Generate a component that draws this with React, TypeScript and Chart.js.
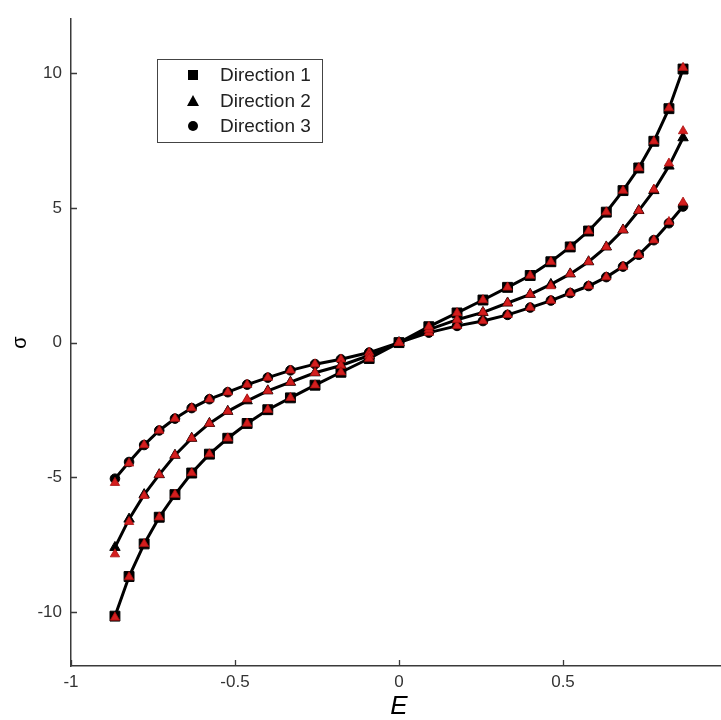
import React, { useEffect, useRef } from "react";
import { Chart, registerables } from "chart.js";

Chart.register(...registerables);

// Strain values E (x axis)
const E = [
  -0.866, -0.823, -0.777, -0.731, -0.683, -0.632, -0.578, -0.522, -0.463, -0.4,
  -0.331, -0.256, -0.177, -0.091, 0, 0.091, 0.177, 0.256, 0.331, 0.4, 0.463,
  0.522, 0.578, 0.632, 0.683, 0.731, 0.777, 0.823, 0.866,
];

// Stress sigma, black curves with markers
const dir1 = [
  -10.15, -8.68, -7.47, -6.48, -5.64, -4.84, -4.14, -3.55, -3.0, -2.49, -2.05,
  -1.58, -1.1, -0.59, 0, 0.59, 1.1, 1.58, 2.05, 2.49, 3.0, 3.55, 4.14, 4.84,
  5.64, 6.48, 7.47, 8.68, 10.15,
];
const dir2 = [
  -7.6, -6.55, -5.64, -4.9, -4.18, -3.55, -3.0, -2.55, -2.16, -1.79, -1.47,
  -1.12, -0.85, -0.48, 0, 0.48, 0.85, 1.12, 1.47, 1.79, 2.16, 2.55, 3.0, 3.55,
  4.18, 4.9, 5.64, 6.55, 7.6,
];
const dir3 = [
  -5.05, -4.43, -3.8, -3.26, -2.82, -2.43, -2.1, -1.84, -1.56, -1.3, -1.03,
  -0.8, -0.62, -0.37, 0, 0.37, 0.62, 0.8, 1.03, 1.3, 1.56, 1.84, 2.1, 2.43,
  2.82, 3.26, 3.8, 4.43, 5.05,
];

// Red triangle markers (second data set)
const red1 = [
  -10.2, -8.7, -7.47, -6.48, -5.64, -4.84, -4.14, -3.55, -3.0, -2.49, -2.05,
  -1.58, -1.1, -0.59, 0, 0.59, 1.1, 1.58, 2.05, 2.49, 3.0, 3.55, 4.14, 4.84,
  5.64, 6.48, 7.47, 8.7, 10.2,
];
const red2 = [
  -7.85, -6.65, -5.68, -4.9, -4.18, -3.55, -3.0, -2.55, -2.1, -1.79, -1.47,
  -1.12, -0.85, -0.48, 0, 0.48, 0.85, 1.12, 1.47, 1.79, 2.1, 2.55, 3.0, 3.55,
  4.18, 4.9, 5.68, 6.65, 7.85,
];
const red3 = [
  -5.2, -4.48, -3.8, -3.26, -2.82, -2.43, -2.1, -1.84, -1.56, -1.3, -1.03,
  -0.8, -0.62, -0.37, 0, 0.37, 0.62, 0.8, 1.03, 1.3, 1.56, 1.84, 2.1, 2.43,
  2.82, 3.26, 3.8, 4.48, 5.2,
];

const xTicks = [-1, -0.5, 0, 0.5, 1];
const yTicks = [-10, -5, 0, 5, 10];
const legendLabels = ["Direction 1", "Direction 2", "Direction 3"];

const FONT = "'Liberation Sans', Arial, sans-serif";
const RED = "#d41e1e";

export default function App() {
  const ref = useRef<HTMLCanvasElement>(null);

  useEffect(() => {
    document.body.style.margin = "0";
    document.body.style.overflow = "hidden";
    document.documentElement.style.overflow = "hidden";
    const mk = (ys: number[]) => E.map((x, i) => ({ x, y: ys[i] }));

    const black = (label: string, ys: number[], style: string, r: number) => ({
      label,
      data: mk(ys),
      borderColor: "#000",
      backgroundColor: "#000",
      borderWidth: 3,
      pointStyle: style,
      pointRadius: r,
      pointBorderWidth: 1,
      pointBorderColor: "#000",
      pointBackgroundColor: "#000",
      tension: 0,
      order: 2,
    });
    const red = (label: string, ys: number[]) => ({
      label,
      data: mk(ys),
      showLine: false,
      borderColor: "#a81010",
      backgroundColor: RED,
      pointStyle: "triangle",
      pointRadius: 5.4,
      pointBorderWidth: 0.8,
      pointBorderColor: "#a81010",
      pointBackgroundColor: RED,
      order: 0,
    });

    const innerTicks = {
      id: "innerTicks",
      afterDraw(chart: any) {
        const ctx = chart.ctx;
        const xs = chart.scales.x;
        const ys = chart.scales.y;
        const { left, bottom } = chart.chartArea;
        ctx.save();
        ctx.strokeStyle = "#3a3a3a";
        ctx.lineWidth = 1.3;
        ctx.beginPath();
        xTicks.forEach((v) => {
          const px = Math.round(xs.getPixelForValue(v)) + 0.5;
          ctx.moveTo(px, bottom);
          ctx.lineTo(px, bottom - 6);
        });
        yTicks.forEach((v) => {
          const py = Math.round(ys.getPixelForValue(v)) + 0.5;
          ctx.moveTo(left, py);
          ctx.lineTo(left + 6, py);
        });
        ctx.stroke();

        // legend
        const bx = 157, by = 59, bw = 165, bh = 83;
        ctx.fillStyle = "#fff";
        ctx.fillRect(bx, by, bw, bh);
        ctx.strokeStyle = "#444";
        ctx.lineWidth = 1;
        ctx.strokeRect(bx + 0.5, by + 0.5, bw, bh);
        const rows = [75, 101, 126];
        const mx = 193;
        ctx.fillStyle = "#000";
        ctx.fillRect(mx - 5, rows[0] - 5, 10, 10);
        ctx.beginPath();
        ctx.moveTo(mx, rows[1] - 6);
        ctx.lineTo(mx + 6, rows[1] + 5);
        ctx.lineTo(mx - 6, rows[1] + 5);
        ctx.closePath();
        ctx.fill();
        ctx.beginPath();
        ctx.arc(mx, rows[2], 5, 0, Math.PI * 2);
        ctx.fill();
        ctx.fillStyle = "#222";
        ctx.font = `19px ${FONT}`;
        ctx.textAlign = "left";
        ctx.textBaseline = "middle";
        legendLabels.forEach((t, i) => ctx.fillText(t, 220, rows[i] + 1));
        ctx.restore();
      },
    };

    const chart = new Chart(ref.current as HTMLCanvasElement, {
      type: "line",
      data: {
        datasets: [
          black("Direction 1", dir1, "rect", 7),
          black("Direction 2", dir2, "triangle", 6),
          black("Direction 3", dir3, "circle", 4.8),
          red("r1", red1),
          red("r2", red2),
          red("r3", red3),
        ] as any,
      },
      options: {
        animation: false,
        responsive: false,
        devicePixelRatio: 1,
        layout: { padding: { top: 12, right: 13, left: 0, bottom: 0 } },
        plugins: { legend: { display: false }, tooltip: { enabled: false } },
        scales: {
          x: {
            type: "linear",
            min: -1,
            max: 1,
            afterBuildTicks: (s: any) => {
              s.ticks = xTicks.map((v) => ({ value: v }));
            },
            afterFit: (s: any) => {
              s.height = 54;
            },
            grid: { display: false, drawTicks: false },
            border: { display: true, color: "#3a3a3a", width: 1.5 },
            ticks: {
              color: "#333",
              font: { family: FONT, size: 17 },
              padding: 6,
              maxRotation: 0,
              autoSkip: false,
              callback: (v: any) => String(v),
            },
            title: {
              display: true,
              text: "E",
              color: "#000",
              font: { family: FONT, size: 26, style: "italic", lineHeight: 1 },
              padding: { top: 0, bottom: 0 },
            },
          },
          y: {
            type: "linear",
            min: -12,
            max: 12,
            afterBuildTicks: (s: any) => {
              s.ticks = yTicks.map((v) => ({ value: v }));
            },
            afterFit: (s: any) => {
              s.width = 71;
            },
            grid: { display: false, drawTicks: false },
            border: { display: true, color: "#3a3a3a", width: 1.5 },
            ticks: {
              color: "#333",
              font: { family: FONT, size: 17 },
              padding: 9,
              autoSkip: false,
              callback: (v: any) => String(v),
            },
            title: {
              display: true,
              text: "σ",
              color: "#000",
              font: { family: FONT, size: 20, lineHeight: 1.2 },
              padding: { top: 8, bottom: 0 },
            },
          },
        },
      },
      plugins: [innerTicks],
    } as any);
    return () => chart.destroy();
  }, []);

  return (
    <div
      style={{
        position: "absolute",
        left: 0,
        top: 0,
        width: 740,
        height: 720,
        background: "#fff",
        overflow: "hidden",
      }}
    >
      <canvas ref={ref} width={740} height={720} style={{ display: "block" }} />
    </div>
  );
}
